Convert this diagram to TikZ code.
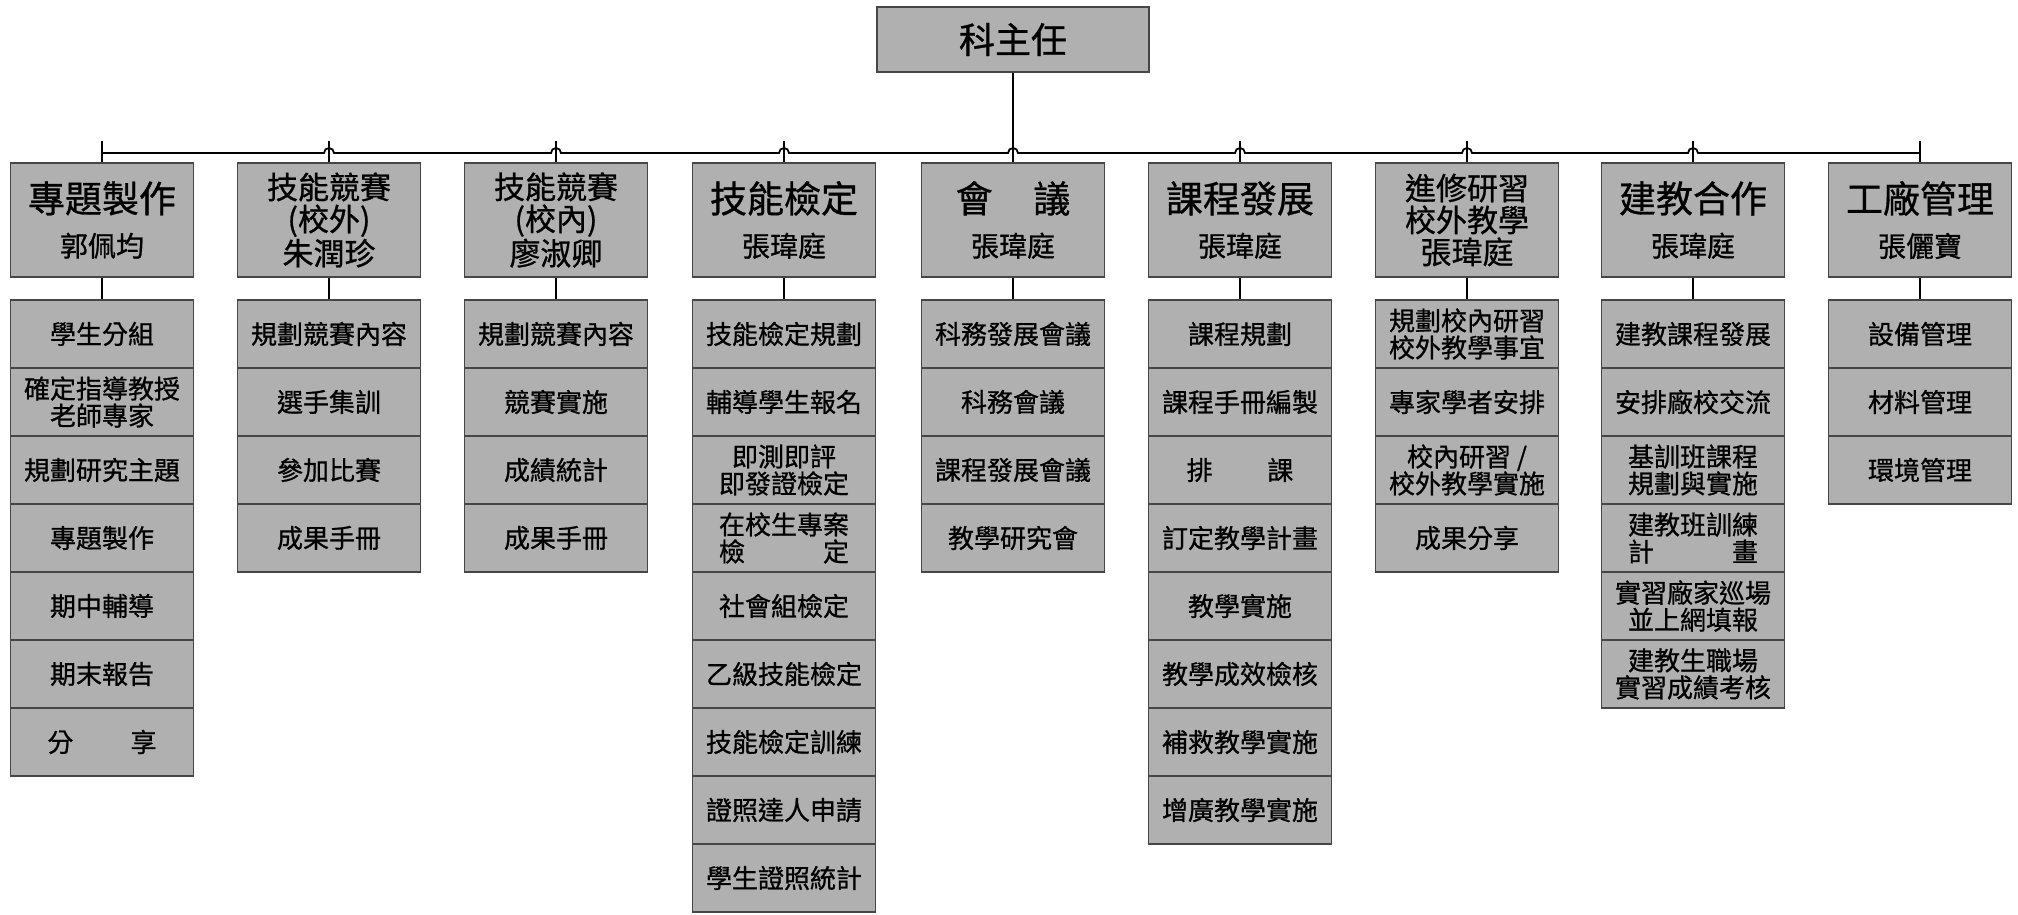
\documentclass[tikz,border=0pt]{standalone}
\usepackage{fontspec}
\setmainfont{Noto Sans CJK TC}[FakeBold=0.8]
\usetikzlibrary{calc}
\definecolor{boxgray}{RGB}{176,176,176}
\definecolor{edgegray}{RGB}{70,70,70}
\newcommand{\titlefont}{\fontsize{18.5}{22}\selectfont}
\newcommand{\namefont}{\fontsize{14}{17}\selectfont}
\newcommand{\midfont}{\fontsize{15.5}{16}\selectfont}
\newcommand{\cellfont}{\fontsize{13}{13.5}\selectfont}
\begin{document}
\begin{tikzpicture}[x=0.5pt, y=-0.5pt,
  boss/.style={draw=edgegray, fill=boxgray, line width=0.6pt, minimum width=136pt, minimum height=32.5pt, inner sep=0pt, font=\fontsize{18}{20}\selectfont},
  head/.style={draw=edgegray, fill=boxgray, line width=0.6pt, minimum width=91.5pt, minimum height=57pt, inner sep=0pt, align=center, font=\titlefont},
  head3/.style={head, font=\midfont},
  cell/.style={draw=edgegray, fill=boxgray, line width=0.6pt, minimum width=91.5pt, minimum height=34pt, inner sep=0pt, align=center, font=\cellfont},
  conn/.style={line width=0.9pt}]
\useasboundingbox (0,0) rectangle (2018,915);
\coordinate (bus) at (0,153);
\coordinate (tick) at (0,141);
\node[boss] (boss) at (1013,39.5) {科主任};
% heads
\node[head] (h1) at (102,220) {專題製作\\{\namefont 郭佩均}};
\node[head3] (h2) at (329,220) {技能競賽\\(校外)\\朱潤珍};
\node[head3] (h3) at (556,220) {技能競賽\\(校內)\\廖淑卿};
\node[head] (h4) at (784,220) {技能檢定\\{\namefont 張瑋庭}};
\node[head] (h5) at (1013,220) {會\hspace{1.1em}議\\{\namefont 張瑋庭}};
\node[head] (h6) at (1240,220) {課程發展\\{\namefont 張瑋庭}};
\node[head3] (h7) at (1467,220) {進修研習\\校外教學\\張瑋庭};
\node[head] (h8) at (1693,220) {建教合作\\{\namefont 張瑋庭}};
\node[head] (h9) at (1920,220) {工廠管理\\{\namefont 張儷寶}};
% 專題製作
\node[cell] (c1a) at (102,334) {學生分組};
\node[cell] (c1b) at (102,402) {確定指導教授\\老師專家};
\node[cell] (c1c) at (102,470) {規劃研究主題};
\node[cell] (c1d) at (102,538) {專題製作};
\node[cell] (c1e) at (102,606) {期中輔導};
\node[cell] (c1f) at (102,674) {期末報告};
\node[cell] (c1g) at (102,742) {分\hspace{2.2em}享};
% 技能競賽 (校外)
\node[cell] (c2a) at (329,334) {規劃競賽內容};
\node[cell] (c2b) at (329,402) {選手集訓};
\node[cell] (c2c) at (329,470) {參加比賽};
\node[cell] (c2d) at (329,538) {成果手冊};
% 技能競賽 (校內)
\node[cell] (c3a) at (556,334) {規劃競賽內容};
\node[cell] (c3b) at (556,402) {競賽實施};
\node[cell] (c3c) at (556,470) {成績統計};
\node[cell] (c3d) at (556,538) {成果手冊};
% 技能檢定
\node[cell] (c4a) at (784,334) {技能檢定規劃};
\node[cell] (c4b) at (784,402) {輔導學生報名};
\node[cell] (c4c) at (784,470) {即測即評\\即發證檢定};
\node[cell] (c4d) at (784,538) {在校生專案\\檢\hspace{3em}定};
\node[cell] (c4e) at (784,606) {社會組檢定};
\node[cell] (c4f) at (784,674) {乙級技能檢定};
\node[cell] (c4g) at (784,742) {技能檢定訓練};
\node[cell] (c4h) at (784,810) {證照達人申請};
\node[cell] (c4i) at (784,878) {學生證照統計};
% 會議
\node[cell] (c5a) at (1013,334) {科務發展會議};
\node[cell] (c5b) at (1013,402) {科務會議};
\node[cell] (c5c) at (1013,470) {課程發展會議};
\node[cell] (c5d) at (1013,538) {教學研究會};
% 課程發展
\node[cell] (c6a) at (1240,334) {課程規劃};
\node[cell] (c6b) at (1240,402) {課程手冊編製};
\node[cell] (c6c) at (1240,470) {排\hspace{2.1em}課};
\node[cell] (c6d) at (1240,538) {訂定教學計畫};
\node[cell] (c6e) at (1240,606) {教學實施};
\node[cell] (c6f) at (1240,674) {教學成效檢核};
\node[cell] (c6g) at (1240,742) {補救教學實施};
\node[cell] (c6h) at (1240,810) {增廣教學實施};
% 進修研習
\node[cell] (c7a) at (1467,334) {規劃校內研習\\校外教學事宜};
\node[cell] (c7b) at (1467,402) {專家學者安排};
\node[cell] (c7c) at (1467,470) {校內研習 /\\校外教學實施};
\node[cell] (c7d) at (1467,538) {成果分享};
% 建教合作
\node[cell] (c8a) at (1693,334) {建教課程發展};
\node[cell] (c8b) at (1693,402) {安排廠校交流};
\node[cell] (c8c) at (1693,470) {基訓班課程\\規劃與實施};
\node[cell] (c8d) at (1693,538) {建教班訓練\\計\hspace{3em}畫};
\node[cell] (c8e) at (1693,606) {實習廠家巡場\\並上網填報};
\node[cell] (c8f) at (1693,674) {建教生職場\\實習成績考核};
% 工廠管理
\node[cell] (c9a) at (1920,334) {設備管理};
\node[cell] (c9b) at (1920,402) {材料管理};
\node[cell] (c9c) at (1920,470) {環境管理};
% lines
\draw[conn] (boss) -- (h5);
\draw[conn] (h1.north |- bus) -- ($(h2.north |- bus)+(-5,0)$) arc[start angle=180, end angle=0, radius=2.5pt]
  -- ($(h3.north |- bus)+(-5,0)$) arc[start angle=180, end angle=0, radius=2.5pt]
  -- ($(h4.north |- bus)+(-5,0)$) arc[start angle=180, end angle=0, radius=2.5pt]
  -- ($(h5.north |- bus)+(-5,0)$) arc[start angle=180, end angle=0, radius=2.5pt]
  -- ($(h6.north |- bus)+(-5,0)$) arc[start angle=180, end angle=0, radius=2.5pt]
  -- ($(h7.north |- bus)+(-5,0)$) arc[start angle=180, end angle=0, radius=2.5pt]
  -- ($(h8.north |- bus)+(-5,0)$) arc[start angle=180, end angle=0, radius=2.5pt]
  -- (h9.north |- bus);
\draw[conn] (h1.north) -- (h1.north |- tick);
\draw[conn] (h2.north) -- (h2.north |- tick);
\draw[conn] (h3.north) -- (h3.north |- tick);
\draw[conn] (h4.north) -- (h4.north |- tick);
\draw[conn] (h6.north) -- (h6.north |- tick);
\draw[conn] (h7.north) -- (h7.north |- tick);
\draw[conn] (h8.north) -- (h8.north |- tick);
\draw[conn] (h9.north) -- (h9.north |- tick);
\draw[conn] (h1) -- (c1a);
\draw[conn] (h2) -- (c2a);
\draw[conn] (h3) -- (c3a);
\draw[conn] (h4) -- (c4a);
\draw[conn] (h5) -- (c5a);
\draw[conn] (h6) -- (c6a);
\draw[conn] (h7) -- (c7a);
\draw[conn] (h8) -- (c8a);
\draw[conn] (h9) -- (c9a);
\end{tikzpicture}
\end{document}
